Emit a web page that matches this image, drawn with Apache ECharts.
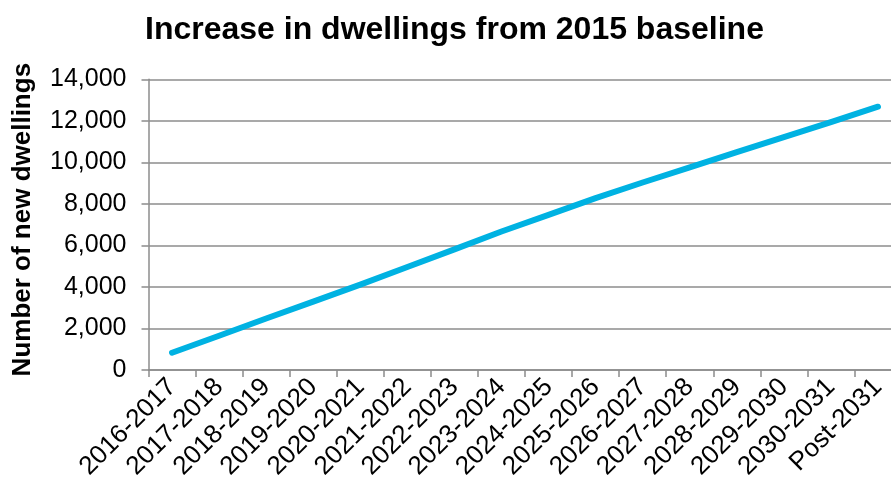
<!DOCTYPE html>
<html>
<head>
<meta charset="utf-8">
<style>
  html, body { margin: 0; padding: 0; background: #ffffff; }
  #chart { width: 891px; height: 494px; }
</style>
<script src="https://cdn.jsdelivr.net/npm/echarts@6/dist/echarts.min.js"></script>
</head>
<body>
<div id="chart"></div>
<script>
const titleText = 'Increase in dwellings from 2015 baseline';
const yAxisTitle = 'Number of new dwellings';
const categories = ['2016-2017', '2017-2018', '2018-2019', '2019-2020', '2020-2021', '2021-2022',
  '2022-2023', '2023-2024', '2024-2025', '2025-2026', '2026-2027', '2027-2028',
  '2028-2029', '2029-2030', '2030-2031', 'Post-2031'];
const dwellings = [830, 1650, 2480, 3290, 4110, 4960, 5810, 6670, 7470, 8280, 9030, 9760,
  10490, 11210, 11940, 12680];
const yMin = 0;
const yMax = 14000;
const yStep = 2000;

const chart = echarts.init(document.getElementById('chart'), null, { renderer: 'canvas' });
const font = '"Liberation Sans", Arial, Helvetica, sans-serif';
const gridColor = '#8c8c8c';

chart.setOption({
  animation: false,
  backgroundColor: '#ffffff',
  title: {
    text: titleText,
    left: 140,
    top: 9,
    textStyle: { fontFamily: font, fontWeight: 'bold', fontSize: 32, color: '#000000' }
  },
  grid: { left: 148.5, top: 79.3, width: 753, height: 290.7, containLabel: false, outerBoundsMode: 'none' },
  xAxis: {
    type: 'category',
    data: categories,
    boundaryGap: true,
    axisLine: { show: true, lineStyle: { color: gridColor, width: 1.5 } },
    axisTick: { show: true, alignWithLabel: false, length: 7, lineStyle: { color: gridColor, width: 1.5 } },
    axisLabel: {
      rotate: 45, interval: 0, margin: 13, hideOverlap: false,
      fontFamily: font, fontSize: 26, color: '#000000'
    },
    splitLine: { show: false }
  },
  yAxis: {
    type: 'value',
    min: yMin, max: yMax, interval: yStep,
    name: yAxisTitle,
    nameLocation: 'middle',
    nameGap: 113,
    nameTextStyle: { fontFamily: font, fontWeight: 'bold', fontSize: 26, color: '#000000', padding: [0, 0, 0, 10] },
    axisLine: { show: true, lineStyle: { color: gridColor, width: 1.5 } },
    axisTick: { show: true, length: 7, lineStyle: { color: gridColor, width: 1.5 } },
    axisLabel: {
      margin: 22, fontFamily: font, fontSize: 25, color: '#000000',
      formatter: v => v.toLocaleString('en-US')
    },
    splitLine: { show: true, lineStyle: { color: gridColor, width: 1.5 } }
  },
  series: [{
    type: 'line',
    data: dwellings,
    showSymbol: false,
    symbol: 'none',
    smooth: false,
    lineStyle: { color: '#00B2E2', width: 6, cap: 'round', join: 'round' },
    clip: false
  }]
});
</script>
</body>
</html>
